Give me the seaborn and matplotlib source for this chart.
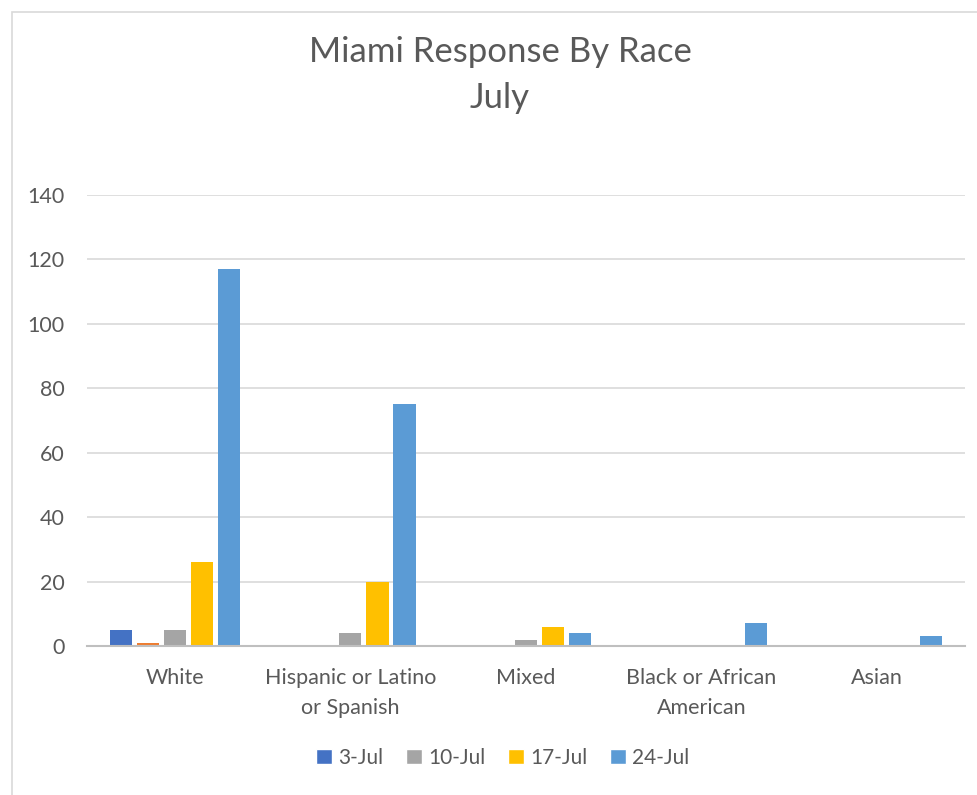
import pandas as pd
import matplotlib.pyplot as plt
import seaborn as sns
from matplotlib.patches import Patch, Rectangle

# Data
categories = ["White", "Hispanic or Latino\nor Spanish", "Mixed", "Black or African\nAmerican", "Asian"]
series = ["3-Jul", " ", "10-Jul", "17-Jul", "24-Jul"]
jul03 = [5, 0, 0, 0, 0]
unnamed = [1, 0, 0, 0, 0]
jul10 = [5, 4, 2, 0, 0]
jul17 = [26, 20, 6, 0, 0]
jul24 = [117, 75, 4, 7, 3]
colors = ["#4472C4", "#ED7D31", "#A5A5A5", "#FFC000", "#5B9BD5"]

values = [jul03, unnamed, jul10, jul17, jul24]
rows = []
for name, vals in zip(series, values):
    for cat, v in zip(categories, vals):
        rows.append({"race": cat, "week": name, "count": v})
df = pd.DataFrame(rows)

sns.set_style("white")
plt.rcParams["font.family"] = ["Lato", "DejaVu Sans"]
text_color = "#595959"

fig = plt.figure(figsize=(9.77, 7.95), dpi=100)
ax = fig.add_axes([87 / 977, 1 - 646 / 795, 878 / 977, 451 / 795])

sns.barplot(
    data=df, x="race", y="count", hue="week",
    order=categories, hue_order=series, palette=colors, saturation=1,
    width=0.77, gap=0.18, linewidth=0, ax=ax, legend=False,
)

ax.set_ylim(0, 140)
ax.set_yticks(range(0, 141, 20))
ax.yaxis.grid(True, color="#d9d9d9", linewidth=1.2)
ax.set_axisbelow(True)
for side in ["top", "right", "left"]:
    ax.spines[side].set_visible(False)
ax.spines["bottom"].set_color("#bfbfbf")
ax.spines["bottom"].set_linewidth(1.5)
ax.set_xlabel("")
ax.set_ylabel("")
ax.tick_params(axis="y", length=0, pad=16, labelsize=15.5, labelcolor=text_color)
ax.tick_params(axis="x", length=0, pad=16, labelsize=15.5, labelcolor=text_color)
for lbl in ax.get_xticklabels():
    lbl.set_linespacing(1.6)

# titles
fig.text(500 / 977, 1 - 52 / 795, "Miami Response By Race", ha="center", va="center",
         fontsize=25, color=text_color)
fig.text(500 / 977, 1 - 98 / 795, "July", ha="center", va="center",
         fontsize=25, color=text_color)

# legend (unnamed series left out)
handles = [Patch(facecolor=c, label=s) for c, s in zip(colors, series) if s.strip()]
fig.legend(handles=handles, loc="center", bbox_to_anchor=(503 / 977, 1 - 758 / 795),
           ncol=4, frameon=False, fontsize=15, labelcolor=text_color,
           handlelength=0.75, handleheight=0.75, handletextpad=0.3, columnspacing=1.1)

# chart border
fig.patches.append(Rectangle((12 / 977, -0.1), 1.2, 1.1 - 12 / 795,
                             transform=fig.transFigure, fill=False,
                             edgecolor="#d9d9d9", linewidth=1.2))

fig.savefig("out.png", dpi=100)
